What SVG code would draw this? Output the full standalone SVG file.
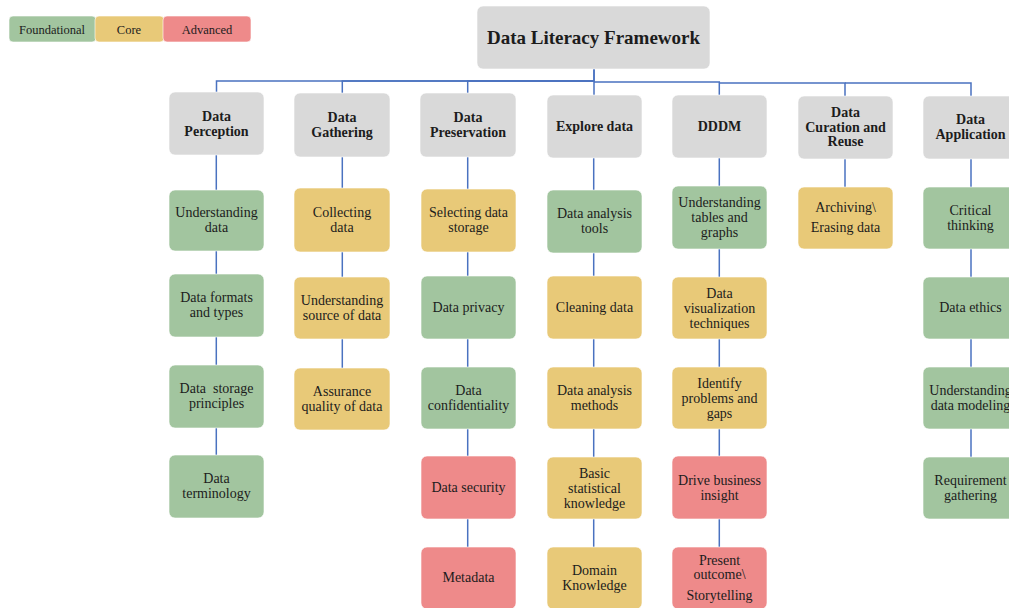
<svg xmlns="http://www.w3.org/2000/svg" width="1009" height="608" viewBox="0 0 1009 608">
  <style>
    .box { stroke: #ffffff; stroke-opacity: 0.6; stroke-width: 1; }
    .gray { fill: #d9d9d9; }
    .green { fill: #a2c59f; }
    .yellow { fill: #e8c978; }
    .red { fill: #ee8a8a; }
    text { font-family: "Liberation Serif", "Times New Roman", serif; fill: #1c1c1c; text-anchor: middle; }
    .t { font-size: 14px; }
    .h { font-size: 14px; font-weight: bold; }
    .title { font-size: 19px; font-weight: bold; }
    .leg { font-size: 12.5px; }
    .conn { fill: none; stroke: #4a72c0; stroke-width: 1.5; }
  </style>

  <!-- legend -->
  <g id="legend">
    <rect class="box green" x="9" y="16" width="87" height="26" rx="4"/>
    <rect class="box yellow" x="95" y="16" width="69" height="26" rx="4"/>
    <rect class="box red" x="163" y="16" width="88" height="26" rx="4"/>
    <text class="leg" x="52" y="33.5">Foundational</text>
    <text class="leg" x="129" y="33.5">Core</text>
    <text class="leg" x="207" y="33.5">Advanced</text>
  </g>

  <!-- connectors -->
  <g id="connectors" class="conn">
    <path d="M594 69 V81 H216.5 V92"/>
    <path d="M594 81 H342.3 V93"/>
    <path d="M594 81 H467.7 V93"/>
    <path d="M594 69 V95"/>
    <path d="M594 82 H719.3 V95"/>
    <path d="M719.3 83 H845 V96"/>
    <path d="M845 83 H971 V96"/>
    <path d="M216.3 155 V455"/>
    <path d="M342.3 157 V368"/>
    <path d="M467.7 157 V547"/>
    <path d="M593.7 158 V547"/>
    <path d="M719.3 158 V547"/>
    <path d="M845 159 V187"/>
    <path d="M971 159 V457"/>
  </g>

  <!-- root -->
  <g id="root">
    <rect class="box gray" x="477" y="6" width="233" height="63" rx="6"/>
    <text class="title" x="593.5" y="44">Data Literacy Framework</text>
  </g>

  <!-- column: Data Perception -->
  <g id="data-perception">
    <rect class="box gray" x="169" y="92" width="95" height="63" rx="6"/>
    <text class="h" x="216.5" y="120.5">Data</text>
    <text class="h" x="216.5" y="135.5">Perception</text>
  </g>
  <g id="understanding-data">
    <rect class="box green" x="169" y="190" width="95" height="61" rx="6"/>
    <text class="t" x="216.5" y="217">Understanding</text>
    <text class="t" x="216.5" y="232">data</text>
  </g>
  <g id="data-formats">
    <rect class="box green" x="169" y="274" width="95" height="63" rx="6"/>
    <text class="t" x="216.5" y="302">Data formats</text>
    <text class="t" x="216.5" y="317">and types</text>
  </g>
  <g id="data-storage-principles">
    <rect class="box green" x="169" y="365" width="95" height="63" rx="6"/>
    <text class="t" x="216.5" y="393" xml:space="preserve">Data  storage</text>
    <text class="t" x="216.5" y="408">principles</text>
  </g>
  <g id="data-terminology">
    <rect class="box green" x="169" y="455" width="95" height="63" rx="6"/>
    <text class="t" x="216.5" y="483">Data</text>
    <text class="t" x="216.5" y="498">terminology</text>
  </g>

  <!-- column: Data Gathering -->
  <g id="data-gathering">
    <rect class="box gray" x="294" y="93" width="96" height="64" rx="6"/>
    <text class="h" x="342" y="121.5">Data</text>
    <text class="h" x="342" y="136.5">Gathering</text>
  </g>
  <g id="collecting-data">
    <rect class="box yellow" x="294" y="188" width="96" height="64" rx="6"/>
    <text class="t" x="342" y="216.5">Collecting</text>
    <text class="t" x="342" y="231.5">data</text>
  </g>
  <g id="understanding-source">
    <rect class="box yellow" x="294" y="277" width="96" height="62" rx="6"/>
    <text class="t" x="342" y="304.5">Understanding</text>
    <text class="t" x="342" y="319.5">source of data</text>
  </g>
  <g id="assurance-quality">
    <rect class="box yellow" x="294" y="368" width="96" height="62" rx="6"/>
    <text class="t" x="342" y="396">Assurance</text>
    <text class="t" x="342" y="411">quality of data</text>
  </g>

  <!-- column: Data Preservation -->
  <g id="data-preservation">
    <rect class="box gray" x="420" y="93" width="96" height="64" rx="6"/>
    <text class="h" x="468" y="121.5">Data</text>
    <text class="h" x="468" y="136.5">Preservation</text>
  </g>
  <g id="selecting-storage">
    <rect class="box yellow" x="421" y="189" width="95" height="63" rx="6"/>
    <text class="t" x="468.5" y="217">Selecting data</text>
    <text class="t" x="468.5" y="232">storage</text>
  </g>
  <g id="data-privacy">
    <rect class="box green" x="421" y="276" width="95" height="63" rx="6"/>
    <text class="t" x="468.5" y="312">Data privacy</text>
  </g>
  <g id="data-confidentiality">
    <rect class="box green" x="421" y="367" width="95" height="62" rx="6"/>
    <text class="t" x="468.5" y="394.5">Data</text>
    <text class="t" x="468.5" y="409.5">confidentiality</text>
  </g>
  <g id="data-security">
    <rect class="box red" x="421" y="456" width="95" height="63" rx="6"/>
    <text class="t" x="468.5" y="492">Data security</text>
  </g>
  <g id="metadata">
    <rect class="box red" x="421" y="547" width="95" height="62" rx="6"/>
    <text class="t" x="468.5" y="582">Metadata</text>
  </g>

  <!-- column: Explore data -->
  <g id="explore-data">
    <rect class="box gray" x="547" y="95" width="95" height="63" rx="6"/>
    <text class="h" x="594.5" y="131">Explore data</text>
  </g>
  <g id="analysis-tools">
    <rect class="box green" x="547" y="190" width="95" height="63" rx="6"/>
    <text class="t" x="594.5" y="218">Data analysis</text>
    <text class="t" x="594.5" y="233">tools</text>
  </g>
  <g id="cleaning-data">
    <rect class="box yellow" x="547" y="276" width="95" height="63" rx="6"/>
    <text class="t" x="594.5" y="312">Cleaning data</text>
  </g>
  <g id="analysis-methods">
    <rect class="box yellow" x="547" y="367" width="95" height="62" rx="6"/>
    <text class="t" x="594.5" y="394.5">Data analysis</text>
    <text class="t" x="594.5" y="409.5">methods</text>
  </g>
  <g id="statistical-knowledge">
    <rect class="box yellow" x="547" y="457" width="95" height="62" rx="6"/>
    <text class="t" x="594.5" y="477.5">Basic</text>
    <text class="t" x="594.5" y="492.5">statistical</text>
    <text class="t" x="594.5" y="507.5">knowledge</text>
  </g>
  <g id="domain-knowledge">
    <rect class="box yellow" x="547" y="547" width="95" height="62" rx="6"/>
    <text class="t" x="594.5" y="575">Domain</text>
    <text class="t" x="594.5" y="590">Knowledge</text>
  </g>

  <!-- column: DDDM -->
  <g id="dddm">
    <rect class="box gray" x="672" y="95" width="95" height="63" rx="6"/>
    <text class="h" x="719.5" y="131">DDDM</text>
  </g>
  <g id="tables-graphs">
    <rect class="box green" x="672" y="186" width="95" height="63" rx="6"/>
    <text class="t" x="719.5" y="206.5">Understanding</text>
    <text class="t" x="719.5" y="221.5">tables and</text>
    <text class="t" x="719.5" y="236.5">graphs</text>
  </g>
  <g id="visualization">
    <rect class="box yellow" x="672" y="277" width="95" height="62" rx="6"/>
    <text class="t" x="719.5" y="297.5">Data</text>
    <text class="t" x="719.5" y="312.5">visualization</text>
    <text class="t" x="719.5" y="327.5">techniques</text>
  </g>
  <g id="problems-gaps">
    <rect class="box yellow" x="672" y="367" width="95" height="62" rx="6"/>
    <text class="t" x="719.5" y="387.5">Identify</text>
    <text class="t" x="719.5" y="402.5">problems and</text>
    <text class="t" x="719.5" y="417.5">gaps</text>
  </g>
  <g id="business-insight">
    <rect class="box red" x="672" y="456" width="95" height="63" rx="6"/>
    <text class="t" x="719.5" y="485">Drive business</text>
    <text class="t" x="719.5" y="500">insight</text>
  </g>
  <g id="storytelling">
    <rect class="box red" x="672" y="547" width="95" height="62" rx="6"/>
    <text class="t" x="719.5" y="564.5">Present</text>
    <text class="t" x="719.5" y="578.5">outcome\</text>
    <text class="t" x="719.5" y="599.5">Storytelling</text>
  </g>

  <!-- column: Data Curation and Reuse -->
  <g id="curation-reuse">
    <rect class="box gray" x="798" y="96" width="95" height="63" rx="6"/>
    <text class="h" x="845.5" y="117">Data</text>
    <text class="h" x="845.5" y="131.5">Curation and</text>
    <text class="h" x="845.5" y="146">Reuse</text>
  </g>
  <g id="archiving">
    <rect class="box yellow" x="798" y="187" width="95" height="62" rx="6"/>
    <text class="t" x="845.5" y="212">Archiving\</text>
    <text class="t" x="845.5" y="232">Erasing data</text>
  </g>

  <!-- column: Data Application -->
  <g id="data-application">
    <rect class="box gray" x="923" y="96" width="95" height="63" rx="6"/>
    <text class="h" x="970.5" y="123.5">Data</text>
    <text class="h" x="970.5" y="138.5">Application</text>
  </g>
  <g id="critical-thinking">
    <rect class="box green" x="923" y="187" width="95" height="62" rx="6"/>
    <text class="t" x="970.5" y="214.5">Critical</text>
    <text class="t" x="970.5" y="229.5">thinking</text>
  </g>
  <g id="data-ethics">
    <rect class="box green" x="923" y="277" width="95" height="62" rx="6"/>
    <text class="t" x="970.5" y="312">Data ethics</text>
  </g>
  <g id="data-modeling">
    <rect class="box green" x="923" y="367" width="95" height="62" rx="6"/>
    <text class="t" x="970.5" y="394.5">Understanding</text>
    <text class="t" x="970.5" y="409.5">data modeling</text>
  </g>
  <g id="requirement-gathering">
    <rect class="box green" x="923" y="457" width="95" height="62" rx="6"/>
    <text class="t" x="970.5" y="484.5">Requirement</text>
    <text class="t" x="970.5" y="499.5">gathering</text>
  </g>
</svg>
